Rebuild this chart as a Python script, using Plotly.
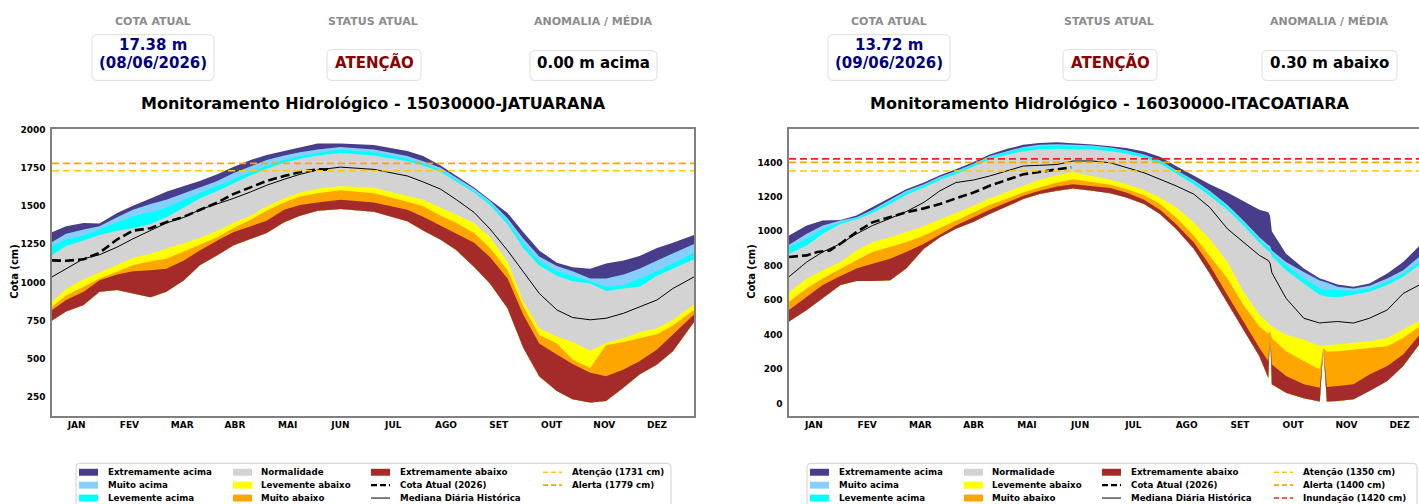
import plotly.graph_objects as go

W, H = 1419, 504
FONT = "DejaVu Sans"
FRAME = "#808080"

# ---------------------------------------------------------------- shared
MONTHS = ["JAN", "FEV", "MAR", "ABR", "MAI", "JUN", "JUL", "AGO", "SET", "OUT", "NOV", "DEZ"]
MONTH_DAYS = [15, 45, 75, 105, 135, 165, 195, 225, 255, 285, 315, 345]

# classes from the top band down to the bottom band
BAND_NAMES = ["Extremamente acima", "Muito acima", "Levemente acima", "Normalidade",
              "Levemente abaixo", "Muito abaixo", "Extremamente abaixo"]
BAND_COLORS = ["#483D8B", "#87CEFA", "#00FFFF", "#D3D3D3", "#FFFF00", "#FFA500", "#A52A2A"]

THRESH_COLORS = {"Atenção": "#FFC800", "Alerta": "#FFA500", "Inundação": "#FF1A1A"}

# ---------------------------------------------------------------- 15030000-JATUARANA
jat_days = [1, 9, 19, 28, 38, 47, 57, 66, 76, 85, 95, 104, 114, 123, 133, 142, 152, 165, 184,
            203, 212, 222, 231, 241, 250, 260, 269, 278, 288, 297, 307, 316, 326, 335, 345, 354, 366]
# edge0 = lower limit of "Extremamente abaixo" ... edge7 = upper limit of "Extremamente acima" (cm)
jat_edge0 = [750, 809, 852, 939, 950, 928, 902, 939, 1014, 1112, 1177, 1242, 1285, 1324, 1394, 1437, 1469, 1480, 1463,
             1400, 1340, 1280, 1210, 1101, 993, 830, 570, 386, 289, 235, 213, 224, 311, 397, 462, 549, 740]
jat_edge1 = [820, 885, 939, 1014, 1051, 1073, 1079, 1090, 1144, 1209, 1274, 1329, 1368, 1404, 1476, 1506, 1523, 1541, 1523,
             1476, 1430, 1372, 1318, 1259, 1166, 1025, 787, 600, 527, 466, 408, 386, 430, 484, 560, 657, 790]
jat_edge2 = [841, 913, 971, 1025, 1069, 1112, 1138, 1155, 1203, 1246, 1296, 1355, 1411, 1469, 1523, 1562, 1584, 1604, 1584,
             1528, 1498, 1437, 1389, 1324, 1225, 1080, 841, 655, 600, 495, 440, 588, 609, 635, 661, 718, 820]
jat_edge3 = [874, 956, 1021, 1064, 1116, 1160, 1188, 1220, 1253, 1290, 1339, 1389, 1437, 1497, 1549, 1588, 1614, 1632, 1619,
             1567, 1541, 1491, 1441, 1389, 1296, 1134, 874, 700, 646, 609, 553, 603, 635, 674, 700, 755, 856]
jat_edge4 = [1177, 1238, 1274, 1311, 1339, 1355, 1383, 1426, 1491, 1549, 1599, 1649, 1701, 1744, 1783, 1809, 1831, 1848, 1831,
             1794, 1766, 1723, 1658, 1588, 1506, 1380, 1225, 1110, 1043, 1008, 993, 943, 960, 971, 1043, 1090, 1151]
jat_edge5 = [1238, 1281, 1307, 1346, 1394, 1433, 1459, 1491, 1541, 1584, 1627, 1675, 1723, 1766, 1801, 1827, 1848, 1870, 1853,
             1809, 1779, 1736, 1671, 1599, 1523, 1400, 1255, 1140, 1073, 1043, 1008, 971, 982, 1025, 1073, 1123, 1194]
jat_edge6 = [1264, 1318, 1346, 1368, 1426, 1476, 1513, 1541, 1584, 1621, 1664, 1714, 1762, 1801, 1831, 1853, 1870, 1887, 1870,
             1827, 1794, 1751, 1686, 1614, 1534, 1420, 1285, 1170, 1108, 1073, 1025, 1025, 1051, 1090, 1144, 1188, 1251]
jat_edge7 = [1329, 1368, 1389, 1385, 1454, 1502, 1549, 1593, 1632, 1664, 1708, 1755, 1801, 1835, 1861, 1883, 1909, 1909, 1900,
             1861, 1827, 1766, 1697, 1621, 1541, 1454, 1329, 1209, 1129, 1099, 1090, 1123, 1144, 1173, 1225, 1259, 1311]
jat_median = [1036, 1090, 1155, 1181, 1231, 1285, 1339, 1389, 1426, 1476, 1515, 1549, 1593, 1636, 1675, 1708, 1736, 1755, 1740,
              1697, 1658, 1610, 1541, 1458, 1350, 1209, 1069, 928, 820, 770, 755, 765, 798, 841, 885, 960, 1036]
jat_cota_days = [1, 9, 19, 28, 38, 47, 57, 66, 76, 85, 95, 104, 114, 123, 133, 142, 152, 159]
jat_cota = [1144, 1142, 1151, 1194, 1281, 1339, 1355, 1394, 1430, 1476, 1523, 1578, 1621, 1664, 1697, 1723, 1740, 1738]
jat_date = "08/06/2026"
jat_status = "ATENÇÃO"
jat_anomalia_m = 0.00
jat_limits = [("Atenção", 1731), ("Alerta", 1779)]

# ---------------------------------------------------------------- 16030000-ITACOATIARA
ita_days = [1, 11, 20, 30, 39, 48, 58, 67, 77, 86, 95, 105, 114, 124, 133, 142, 152, 161, 172, 182, 191, 201,
            210, 219, 229, 238, 248, 257, 266, 271, 272, 273, 281, 291, 300, 302, 304, 310, 319, 328, 338, 347, 356, 366]
ita_edge0 = [476, 543, 611, 688, 711, 711, 716, 784, 899, 966, 1014, 1056, 1100, 1148, 1187, 1216, 1235, 1248, 1235, 1221,
             1196, 1158, 1100, 1014, 899, 755, 582, 428, 274, 150, 419, 111, 63, 31, 12, 323, 12, 15, 25, 73, 131, 217, 342, 470]
ita_edge1 = [543, 620, 688, 741, 784, 812, 841, 880, 928, 980, 1033, 1081, 1125, 1168, 1206, 1235, 1260, 1273, 1264, 1252,
             1225, 1183, 1125, 1043, 937, 803, 630, 476, 323, 245, 419, 227, 159, 111, 92, 323, 95, 102, 111, 169, 217, 284, 399, 520]
ita_edge2 = [591, 668, 726, 784, 832, 880, 908, 937, 976, 1018, 1062, 1110, 1152, 1191, 1225, 1254, 1283, 1302, 1285, 1270,
             1244, 1210, 1158, 1081, 976, 860, 726, 572, 447, 405, 419, 380, 303, 246, 198, 323, 300, 303, 313, 323, 332, 380, 447, 560]
ita_edge3 = [645, 726, 774, 822, 889, 937, 966, 995, 1029, 1068, 1106, 1148, 1191, 1229, 1264, 1298, 1325, 1344, 1320, 1300,
             1275, 1240, 1196, 1139, 1052, 956, 822, 649, 515, 465, 460, 447, 399, 371, 332, 335, 340, 342, 351, 361, 380, 428, 480, 600]
ita_edge4 = [870, 918, 985, 1043, 1068, 1106, 1158, 1210, 1254, 1298, 1331, 1375, 1417, 1446, 1465, 1475, 1479, 1475, 1475, 1465,
             1452, 1427, 1394, 1337, 1273, 1206, 1125, 1033, 933, 885, 880, 857, 774, 697, 630, 625, 620, 615, 630, 649, 688, 736, 803, 880]
ita_edge5 = [908, 956, 1014, 1052, 1075, 1120, 1175, 1225, 1268, 1310, 1344, 1386, 1429, 1460, 1483, 1494, 1498, 1494, 1494, 1483,
             1467, 1442, 1406, 1350, 1291, 1225, 1144, 1052, 953, 905, 900, 876, 803, 726, 668, 664, 662, 659, 653, 668, 707, 755, 822, 900]
ita_edge6 = [922, 985, 1033, 1062, 1081, 1125, 1183, 1235, 1273, 1316, 1350, 1392, 1437, 1467, 1490, 1502, 1506, 1502, 1498, 1486,
             1471, 1446, 1413, 1356, 1298, 1235, 1152, 1062, 966, 920, 915, 889, 822, 764, 714, 708, 702, 678, 668, 684, 726, 774, 851, 930]
ita_edge7 = [976, 1033, 1062, 1066, 1091, 1139, 1196, 1244, 1283, 1325, 1360, 1402, 1446, 1479, 1502, 1513, 1517, 1513, 1504, 1494,
             1483, 1463, 1433, 1379, 1321, 1273, 1225, 1173, 1125, 1110, 1090, 1000, 870, 784, 726, 720, 712, 691, 678, 697, 755, 822, 914, 1000]
ita_median = [736, 822, 880, 928, 985, 1033, 1075, 1114, 1168, 1235, 1283, 1298, 1321, 1350, 1379, 1383, 1388, 1408, 1408, 1398,
              1369, 1340, 1302, 1264, 1216, 1139, 1014, 937, 860, 830, 815, 760, 611, 495, 467, 470, 472, 476, 467, 495, 543, 639, 688, 720]
ita_cota_days = [1, 11, 17, 24, 30, 39, 48, 58, 67, 77, 86, 95, 105, 114, 124, 133, 142, 152, 157, 160]
ita_cota = [851, 860, 880, 889, 928, 995, 1052, 1081, 1110, 1133, 1158, 1191, 1225, 1264, 1298, 1331, 1344, 1360, 1369, 1372]
ita_date = "09/06/2026"
ita_status = "ATENÇÃO"
ita_anomalia_m = -0.30
ita_limits = [("Atenção", 1350), ("Alerta", 1400), ("Inundação", 1420)]


def PX(x):
    return x / W


def PY(y):
    return 1 - y / H


fig = go.Figure()
shapes = []
annotations = []


def text(x, y, s, size, color="black", xanchor="center", angle=0):
    # small upward nudge so the glyphs sit on the intended centre line
    dy = 0 if angle else -0.18 * size
    annotations.append(dict(
        x=PX(x), y=PY(y + dy), xref="paper", yref="paper", text=s, showarrow=False,
        xanchor=xanchor, yanchor="middle", textangle=angle,
        font=dict(family=FONT, size=size, color=color, weight="bold")))


def rounded_box(x0, y0, x1, y1, r=5, line="#dddddd", fill="white"):
    p = [
        f"M {PX(x0 + r)},{PY(y0)}", f"L {PX(x1 - r)},{PY(y0)}",
        f"Q {PX(x1)},{PY(y0)} {PX(x1)},{PY(y0 + r)}", f"L {PX(x1)},{PY(y1 - r)}",
        f"Q {PX(x1)},{PY(y1)} {PX(x1 - r)},{PY(y1)}", f"L {PX(x0 + r)},{PY(y1)}",
        f"Q {PX(x0)},{PY(y1)} {PX(x0)},{PY(y1 - r)}", f"L {PX(x0)},{PY(y0 + r)}",
        f"Q {PX(x0)},{PY(y0)} {PX(x0 + r)},{PY(y0)}", "Z"]
    shapes.append(dict(type="path", path=" ".join(p), xref="paper", yref="paper",
                       line=dict(color=line, width=1), fillcolor=fill, layer="above"))


def add_panel(xa, ya, days, edges, median, cota_days, cota, limits):
    bottom = edges[0]
    # stacked class bands, painted from the widest envelope down
    for k in range(7, 0, -1):
        top = edges[k]
        fig.add_trace(go.Scatter(
            x=days + days[::-1], y=top + bottom[::-1], fill="toself",
            fillcolor=BAND_COLORS[7 - k], mode="lines", line=dict(width=0),
            xaxis=xa, yaxis=ya, hoverinfo="skip", showlegend=False))
    fig.add_trace(go.Scatter(x=days, y=median, mode="lines",
                             line=dict(color="black", width=1),
                             xaxis=xa, yaxis=ya, hoverinfo="skip", showlegend=False))
    fig.add_trace(go.Scatter(x=cota_days, y=cota, mode="lines",
                             line=dict(color="black", width=2.6, dash="9px,4px"),
                             xaxis=xa, yaxis=ya, hoverinfo="skip", showlegend=False))
    for name, val in limits:
        fig.add_trace(go.Scatter(x=[days[0], days[-1]], y=[val, val], mode="lines",
                                 line=dict(color=THRESH_COLORS[name], width=1.7, dash="7px,4px"),
                                 xaxis=xa, yaxis=ya, hoverinfo="skip", showlegend=False))


def add_header(dx, cota, date, status, anomalia, box3_w, title):
    for cx, lab in [(153, "COTA ATUAL"), (373, "STATUS ATUAL"), (593, "ANOMALIA / MÉDIA")]:
        text(cx + dx, 20, lab, 11, "#8c8c8c")
    rounded_box(92 + dx, 31, 214 + dx, 77)
    text(153 + dx, 44, f"{cota[-1] / 100:.2f} m", 15, "#000080")
    text(153 + dx, 62, f"({date})", 15, "#000080")
    rounded_box(327 + dx, 46, 421 + dx, 77)
    text(374 + dx, 62, status, 15, "#8B0000")
    rounded_box(593.5 + dx - box3_w / 2, 47, 593.5 + dx + box3_w / 2, 77)
    word = "acima" if anomalia >= 0 else "abaixo"
    text(593.5 + dx, 62, f"{abs(anomalia):.2f} m {word}", 15, "black")
    text(373 + dx, 103, title, 16, "black")


def add_legend(dx, box_right, limits):
    rounded_box(76 + dx, 463, box_right, 530, r=4, line="#d0d0d0")
    cols = [
        [("fill", BAND_COLORS[0], BAND_NAMES[0]), ("fill", BAND_COLORS[1], BAND_NAMES[1]),
         ("fill", BAND_COLORS[2], BAND_NAMES[2])],
        [("fill", BAND_COLORS[3], BAND_NAMES[3]), ("fill", BAND_COLORS[4], BAND_NAMES[4]),
         ("fill", BAND_COLORS[5], BAND_NAMES[5])],
        [("fill", BAND_COLORS[6], BAND_NAMES[6]), ("dash", "black", "Cota Atual (2026)"),
         ("line", "black", "Mediana Diária Histórica")],
        [("thr", THRESH_COLORS[n], f"{n} ({v} cm)") for n, v in limits],
    ]
    key_x = [79, 233, 371, 543]
    txt_x = [106, 259, 398, 570]
    rows_y = [472, 485, 498]
    for ci, col in enumerate(cols):
        for ri, (kind, color, label) in enumerate(col):
            x0 = key_x[ci] + dx
            y = rows_y[ri]
            if kind == "fill":
                shapes.append(dict(type="rect", xref="paper", yref="paper",
                                   x0=PX(x0), x1=PX(x0 + 19), y0=PY(y + 3.5), y1=PY(y - 3.5),
                                   fillcolor=color, line=dict(width=0), layer="above"))
            else:
                width = {"dash": 2.4, "line": 1.0, "thr": 1.6}[kind]
                dash = {"dash": "6px,3px", "line": "solid", "thr": "5px,3px"}[kind]
                shapes.append(dict(type="line", xref="paper", yref="paper",
                                   x0=PX(x0), x1=PX(x0 + 19), y0=PY(y), y1=PY(y),
                                   line=dict(color=color, width=width, dash=dash), layer="above"))
            text(txt_x[ci] + dx, y + 1.2, label, 8.7, "black", xanchor="left")


jat_edges = [jat_edge0, jat_edge1, jat_edge2, jat_edge3, jat_edge4, jat_edge5, jat_edge6, jat_edge7]
ita_edges = [ita_edge0, ita_edge1, ita_edge2, ita_edge3, ita_edge4, ita_edge5, ita_edge6, ita_edge7]

add_panel("x", "y", jat_days, jat_edges, jat_median, jat_cota_days, jat_cota, jat_limits)
add_panel("x2", "y2", ita_days, ita_edges, ita_median, ita_cota_days, ita_cota, ita_limits)

add_header(0, jat_cota, jat_date, jat_status, jat_anomalia_m, 127,
           "Monitoramento Hidrológico - 15030000-JATUARANA")
add_header(736, ita_cota, ita_date, ita_status, ita_anomalia_m, 135,
           "Monitoramento Hidrológico - 16030000-ITACOATIARA")

add_legend(0, 671, jat_limits)
add_legend(731, 1417, ita_limits)

text(15, 270, "Cota (cm)", 10, "black", angle=-90)
text(752, 270, "Cota (cm)", 10, "black", angle=-90)

tick_font = dict(family=FONT, size=9, color="black", weight="bold")
xcommon = dict(tickmode="array", tickvals=MONTH_DAYS, ticktext=MONTHS, showgrid=False,
               zeroline=False, showline=True, linecolor=FRAME, linewidth=1.5, ticks="",
               tickfont=tick_font, fixedrange=True, mirror=True, ticklabelstandoff=0)
ycommon = dict(showgrid=False, zeroline=False, showline=True, linecolor=FRAME, linewidth=1.5,
               ticks="", tickfont=tick_font, fixedrange=True, ticklabelstandoff=3)

plot_y = [PY(415), PY(126)]
fig.update_layout(
    width=W, height=H, margin=dict(l=0, r=0, t=0, b=0),
    paper_bgcolor="white", plot_bgcolor="white", showlegend=False,
    xaxis=dict(domain=[PX(52), PX(694)], range=[1, 366], anchor="y", **xcommon),
    yaxis=dict(domain=plot_y, range=[127, 2004.5], anchor="x", mirror=True,
               tickvals=[250, 500, 750, 1000, 1250, 1500, 1750, 2000], **ycommon),
    xaxis2=dict(domain=[PX(789), 1.0], range=[1, 355.9], anchor="y2", **xcommon),
    yaxis2=dict(domain=plot_y, range=[-71, 1594], anchor="x2", mirror=False,
                tickvals=[0, 200, 400, 600, 800, 1000, 1200, 1400], **ycommon),
    shapes=shapes, annotations=annotations,
)

fig.write_html("out.html")
